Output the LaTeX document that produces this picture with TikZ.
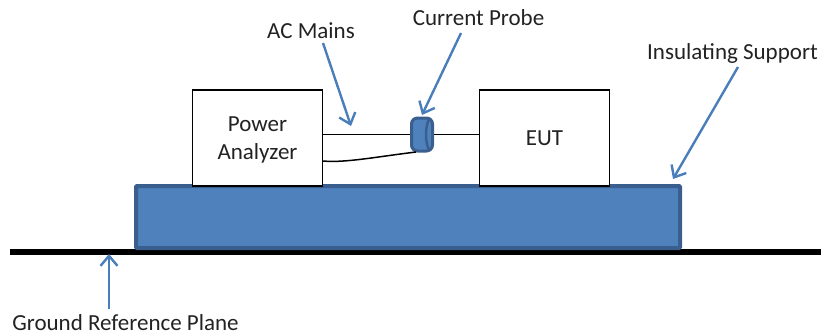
\documentclass[tikz,border=0pt]{standalone}
\usepackage{fontspec}
\setmainfont{Carlito}
\usetikzlibrary{arrows.meta}
\definecolor{fillblue}{HTML}{4F81BD}
\definecolor{edgeblue}{HTML}{3A5F8F}
\definecolor{arrowblue}{HTML}{4A7EBB}
\definecolor{textgrey}{HTML}{222222}
\tikzset{
  lbl/.style={font=\fontsize{23}{27}\selectfont,text=textgrey,inner sep=0pt,align=center},
  unitbox/.style={draw=black,line width=1.5pt,fill=white,minimum width=130pt,minimum height=96pt,inner sep=0pt},
  callout/.style={draw=arrowblue,line width=2.4pt,-{Straight Barb[length=10pt,width=17pt,line width=2.4pt]}},
  wire/.style={draw=black,line width=1.5pt},
}
\begin{document}
\begin{tikzpicture}[x=1pt,y=-1pt]
\useasboundingbox (0,0) rectangle (821,335);
% ground plane
\coordinate (gl) at (10,252);
\coordinate (gr) at (821,252);
\draw[black,line width=6.5pt] (gl) -- (gr);
% insulating table
\node[draw=edgeblue,line width=4pt,fill=fillblue,rounded corners=1pt,minimum width=544pt,minimum height=62pt,inner sep=0pt] (table) at (408,217) {};
% boxes
\node[unitbox,lbl] (pa) at (257.5,138) {};
\node[lbl] (patext) at (257.5,140) {Power\\[1pt]Analyzer};
\node[unitbox,lbl] (eut) at (544.5,138) {EUT};
% probe
\node[draw=edgeblue,line width=3pt,fill=fillblue,rounded corners=6pt,minimum width=21pt,minimum height=33pt,inner sep=0pt] (probe) at (422,134.5) {};
\coordinate (pa1) at (pa.east |- probe.center);
\coordinate (cablestart) at (323,161);
\coordinate (cableend) at (416,152);
\draw[wire] (pa1) -- (probe.west);
\draw[wire] (probe.east) -- (eut.west |- probe.center);
\draw[wire] (cablestart) .. controls (345,163) and (375,157) .. (cableend);
\draw[edgeblue,line width=2.5pt] (429,119) .. controls (425,127) and (425,142) .. (429,150);
% labels
\node[lbl] (ac) at (311,31) {AC Mains};
\node[lbl] (cp) at (478.5,18) {Current Probe};
\node[lbl] (is) at (732.5,53.5) {Insulating Support};
\node[lbl] (gnd) at (125.5,322.5) {Ground Reference Plane};
% callouts
\coordinate (actip) at (351,126);
\coordinate (cptip) at (422,115);
\coordinate (istip) at (673,179);
\coordinate (grtip) at (109,254);
\coordinate (acs) at (323,43);
\coordinate (cps) at (461,33);
\coordinate (iss) at (738,67);
\coordinate (grs) at (109,309);
\draw[callout] (acs) -- (actip);
\draw[callout] (cps) -- (cptip);
\draw[callout] (iss) -- (istip);
\draw[callout] (grs) -- (grtip);
\end{tikzpicture}
\end{document}
